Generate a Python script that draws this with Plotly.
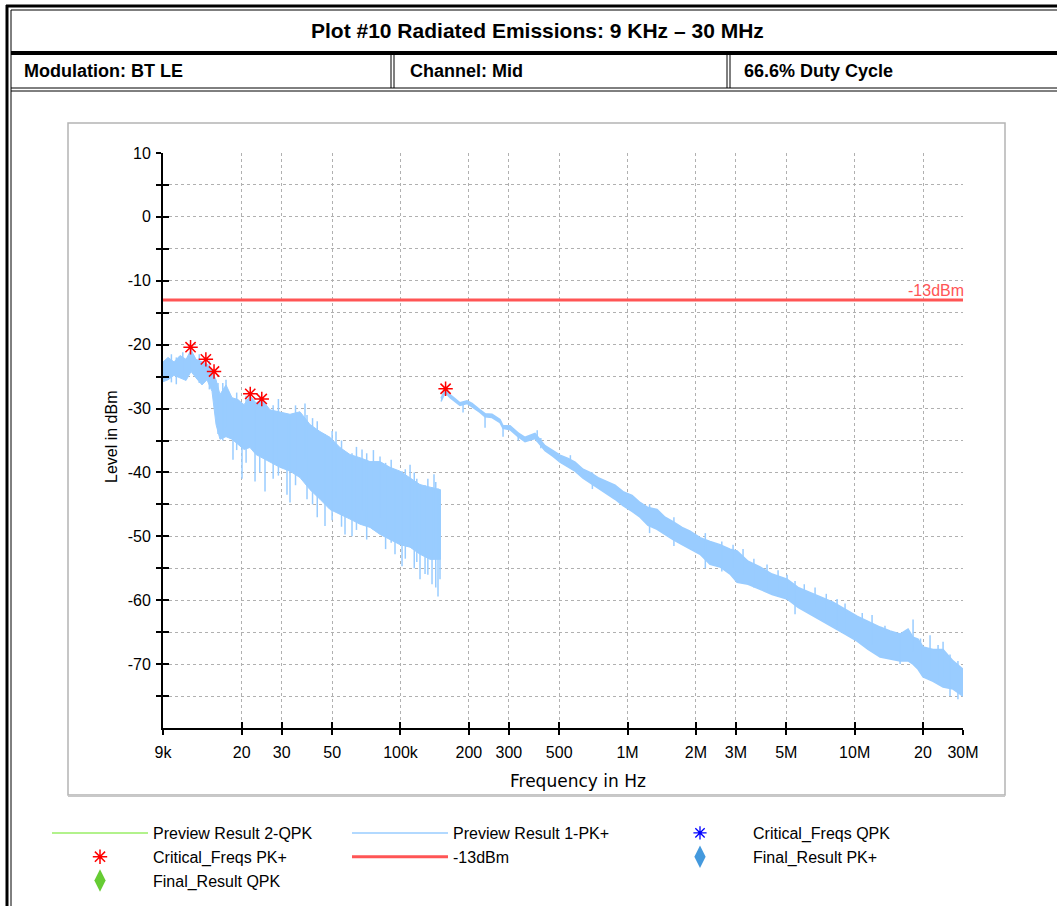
import math
import plotly.graph_objects as go

# ---------------- data ----------------
# Band 9 kHz - 150 kHz : Preview Result 1-PK+ (upper / lower envelope of the trace)
left_freq = [9.0e3, 9.47e3, 10.06e3, 10.70e3, 11.37e3, 11.96e3, 12.58e3, 13.37e3, 14.06e3,
             14.79e3, 15.41e3, 16.04e3, 17.05e3, 18.12e3, 19.25e3, 20.47e3, 21.74e3, 23.11e3,
             24.56e3, 26.64e3, 29.48e3, 32.62e3, 36.10e3, 39.96e3, 44.22e3, 48.94e3, 54.16e3,
             59.95e3, 66.35e3, 73.43e3, 81.27e3, 89.94e3, 99.54e3, 110.2e3, 121.9e3, 134.9e3,
             150.0e3]
left_upper = [-22.7, -22.0, -22.7, -21.7, -22.3, -20.8, -22.3, -22.7, -23.0, -24.2, -25.5,
              -27.8, -26.3, -28.3, -28.6, -29.4, -28.0, -29.1, -28.6, -30.2, -30.5, -30.9,
              -30.5, -32.5, -33.6, -34.5, -36.1, -37.2, -37.7, -38.3, -38.3, -39.2, -39.8,
              -40.8, -41.9, -42.3, -42.7]
left_lower = [-25.8, -25.5, -24.8, -25.2, -25.6, -24.2, -25.2, -26.3, -25.5, -27.3, -32.5,
              -34.8, -34.4, -34.8, -35.6, -36.4, -36.1, -37.2, -37.7, -38.3, -39.2, -39.8,
              -40.8, -42.7, -44.2, -45.8, -46.6, -47.3, -48.1, -48.6, -49.7, -50.5, -51.3,
              -51.7, -52.8, -53.6, -53.6]
# single-bin spikes in the 9 kHz - 150 kHz band (frequency, top, bottom)
left_spike_freq = [9.8e3, 10.3e3, 11.0e3, 12.0e3, 13.0e3, 14.4e3, 15.72e3, 16.5e3, 17.05e3,
                   18.30e3, 19.0e3, 20.05e3, 20.9e3, 22.88e3, 24.0e3, 25.32e3, 27.5e3, 29.0e3,
                   31.64e3, 32.62e3, 34.5e3, 37.98e3, 38.76e3, 41.0e3, 43.0e3, 46.52e3, 50.0e3,
                   52.01e3, 55.0e3, 56.98e3, 61.17e3, 64.0e3, 67.71e3, 71.0e3, 76.0e3, 81.27e3,
                   86.0e3, 91.0e3, 94.6e3, 101.6e3, 105.0e3, 110.2e3, 115.0e3, 118.0e3, 121.9e3,
                   128.3e3, 132.0e3, 137.7e3, 140.5e3, 143.0e3, 146.3e3, 149.3e3]
left_spike_top = [-21.5, -22.0, -21.2, -20.5, -21.5, -22.5, -26.0, -26.0, -25.5, -29.0, -27.5,
                  -29.5, -28.0, -29.0, -28.0, -29.5, -29.5, -28.5, -31.0, -31.0, -29.5, -29.2,
                  -31.0, -31.5, -32.0, -34.0, -33.5, -33.6, -35.0, -37.0, -37.0, -36.0, -36.4,
                  -37.0, -36.5, -37.5, -38.5, -38.0, -39.5, -39.8, -39.5, -38.8, -40.0, -41.0,
                  -41.9, -42.0, -41.0, -42.3, -40.3, -41.5, -42.5, -42.7]
left_spike_bot = [-25.9, -26.2, -25.0, -24.0, -26.0, -27.0, -34.0, -35.0, -33.0, -38.0, -36.5,
                  -41.0, -38.5, -41.4, -40.0, -43.0, -41.0, -40.5, -43.5, -44.7, -42.0, -38.0,
                  -44.2, -45.0, -47.0, -48.4, -47.5, -44.0, -48.5, -49.7, -50.0, -49.0, -46.0,
                  -50.5, -49.0, -47.0, -52.0, -51.0, -52.8, -54.7, -53.5, -50.0, -55.0, -54.0,
                  -56.7, -55.9, -56.0, -57.5, -52.0, -58.0, -59.4, -56.7]

# Band 150 kHz - 30 MHz : Preview Result 1-PK+
right_freq = [150.9e3, 157.1e3, 165.3e3, 173.9e3, 182.9e3, 196.4e3, 206.6e3, 224.0e3, 235.7e3,
              253.0e3, 274.4e3, 282.9e3, 303.7e3, 329.4e3, 353.6e3, 391.2e3, 433.1e3, 469.7e3,
              504.2e3, 547.0e3, 587.0e3, 636.6e3, 683.5e3, 741.4e3, 812.1e3, 880.6e3, 955.1e3,
              1.0466e6, 1.1349e6, 1.2307e6, 1.3486e6, 1.4624e6, 1.5858e6, 1.7376e6, 1.8847e6,
              2.0854e6, 2.3078e6, 2.5543e6, 2.8268e6, 3.0354e6, 3.3928e6, 3.8322e6, 4.3279e6,
              5.0385e6, 5.6329e6, 6.3632e6, 7.1849e6, 8.0330e6, 9.072e6, 10.247e6, 11.457e6,
              12.94e6, 14.32e6, 15.85e6, 17.19e6, 18.08e6, 19.02e6, 20.01e6, 22.14e6, 24.51e6,
              27.12e6, 30.0e6]
right_upper = [-28.4, -27.0, -27.8, -28.4, -29.1, -28.8, -29.2, -30.2, -30.8, -30.9, -31.7,
               -32.7, -32.7, -33.8, -34.5, -33.9, -35.8, -36.6, -37.3, -37.8, -38.4, -39.5,
               -40.0, -40.8, -41.4, -42.0, -43.0, -43.6, -44.7, -45.5, -45.8, -47.0, -47.7,
               -48.6, -49.2, -50.2, -50.8, -51.3, -52.0, -52.3, -53.9, -54.8, -55.9, -56.7,
               -58.0, -58.8, -59.5, -60.3, -61.4, -62.5, -63.3, -64.2, -64.8, -65.3, -64.5,
               -65.8, -66.1, -67.3, -67.7, -67.7, -69.5, -70.8]
right_lower = [-28.9, -27.5, -28.3, -28.9, -29.5, -29.2, -29.7, -30.6, -31.3, -31.4, -32.2,
               -33.1, -33.3, -34.4, -35.2, -34.7, -36.6, -37.5, -38.4, -39.1, -39.8, -40.9,
               -41.7, -42.5, -43.4, -44.2, -45.2, -46.1, -47.0, -48.3, -48.9, -49.7, -50.5,
               -51.3, -52.0, -52.8, -54.4, -54.8, -55.9, -57.2, -57.5, -58.3, -59.1, -59.8,
               -61.1, -62.2, -63.3, -64.2, -65.3, -66.4, -67.7, -68.9, -69.2, -69.5, -69.5,
               -70.0, -70.8, -72.0, -72.7, -73.6, -73.9, -75.0]
right_spike_freq = [188.6e3, 235.7e3, 282.9e3, 330.0e3, 400.0e3, 415.0e3, 560.0e3, 700.0e3,
                    1.25e6, 1.6e6, 2.2e6, 2.6e6, 2.915e6, 3.225e6, 3.6e6, 4.113e6, 4.6e6,
                    5.0385e6, 5.464e6, 6.0e6, 6.694e6, 7.5e6, 8.366e6, 9.072e6, 10.8e6, 11.93e6,
                    13.6e6, 15.85e6, 18.08e6, 19.5e6, 21.48e6, 23.3e6, 24.51e6, 26.3e6, 28.5e6]
right_spike_top = [-29.1, -30.8, -32.7, -33.8, -33.4, -34.6, -37.3, -40.0, -45.0, -47.0, -49.5,
                   -50.8, -51.3, -52.0, -53.5, -54.4, -55.3, -56.0, -57.0, -57.5, -58.0, -59.0,
                   -59.8, -60.5, -62.0, -62.3, -64.0, -65.3, -63.0, -66.0, -65.5, -67.0, -66.5,
                   -68.5, -69.5]
right_spike_bot = [-30.6, -33.0, -34.4, -35.0, -35.2, -36.2, -38.6, -42.6, -49.5, -51.5, -55.0,
                   -55.5, -55.0, -56.0, -58.0, -58.5, -59.5, -59.8, -62.2, -61.5, -61.0, -63.5,
                   -64.5, -65.3, -66.5, -67.0, -68.5, -70.0, -68.0, -71.0, -71.0, -73.0, -72.0,
                   -75.0, -75.5]

# Critical_Freqs PK+
crit_pk_freq = [11.9e3, 13.9e3, 15.1e3, 21.8e3, 24.5e3, 158.0e3]
crit_pk_level = [-20.4, -22.3, -24.2, -27.7, -28.5, -26.9]

# limit line
limit_freq = [9.0e3, 30.0e6]
limit_level = [-13.0, -13.0]

# axes
x_tick_vals = [9e3, 2e4, 3e4, 5e4, 1e5, 2e5, 3e5, 5e5, 1e6, 2e6, 3e6, 5e6, 1e7, 2e7, 3e7]
x_tick_text = ['9k', '20', '30', '50', '100k', '200', '300', '500', '1M', '2M', '3M', '5M',
               '10M', '20', '30M']
y_tick_vals = [10, 5, 0, -5, -10, -15, -20, -25, -30, -35, -40, -45, -50, -55, -60, -65, -70, -75]
y_tick_text = ['10', '', '0', '', '-10', '', '-20', '', '-30', '', '-40', '', '-50', '', '-60',
               '', '-70', '']

title_text = 'Plot #10 Radiated Emissions: 9 KHz \u2013 30 MHz'
row_texts = ['Modulation: BT LE', 'Channel: Mid', '66.6% Duty Cycle']

# ---------------- layout geometry ----------------
W, H = 1057, 906
PL, PR, PT, PB = 163, 963, 153, 728


def X(px):
    return (px - PL) / (PR - PL)


def Y(py):
    return (PB - py) / (PB - PT)


BLUE = '#99ccff'
RED_LINE = '#ff5555'
SANS = 'Liberation Sans, Arial, sans-serif'


def segments(freqs, tops, bots):
    xs, ys = [], []
    for f, t, b in zip(freqs, tops, bots):
        xs += [f, f, None]
        ys += [t, b, None]
    return xs, ys


fig = go.Figure()

# data band polygons
fig.add_trace(go.Scatter(x=left_freq + left_freq[::-1], y=left_upper + left_lower[::-1],
                         mode='lines', fill='toself', fillcolor=BLUE,
                         line=dict(color=BLUE, width=1), showlegend=False, hoverinfo='skip'))
sx, sy = segments(left_spike_freq, left_spike_top, left_spike_bot)
fig.add_trace(go.Scatter(x=sx, y=sy, mode='lines', line=dict(color=BLUE, width=1.5),
                         showlegend=False, hoverinfo='skip'))
fig.add_trace(go.Scatter(x=right_freq + right_freq[::-1], y=right_upper + right_lower[::-1],
                         mode='lines', fill='toself', fillcolor=BLUE,
                         line=dict(color=BLUE, width=1.5), showlegend=False, hoverinfo='skip'))
sx, sy = segments(right_spike_freq, right_spike_top, right_spike_bot)
fig.add_trace(go.Scatter(x=sx, y=sy, mode='lines', line=dict(color=BLUE, width=1.5),
                         showlegend=False, hoverinfo='skip'))

# legend-only / actual series
fig.add_trace(go.Scatter(x=[None], y=[None], mode='lines', name='Preview Result 2-QPK',
                         line=dict(color='#99ee66', width=1.5), legendrank=1))
fig.add_trace(go.Scatter(x=[None], y=[None], mode='lines', name='Preview Result 1-PK+',
                         line=dict(color=BLUE, width=1.5), legendrank=2))
fig.add_trace(go.Scatter(x=[None], y=[None], mode='markers', name='Critical_Freqs QPK',
                         marker=dict(symbol='asterisk-open', size=11, color='#0000ff',
                                     line=dict(color='#0000ff', width=1.3)), legendrank=3))
fig.add_trace(go.Scatter(x=limit_freq, y=limit_level, mode='lines', name='-13dBm',
                         line=dict(color=RED_LINE, width=3), legendrank=5))
fig.add_trace(go.Scatter(x=crit_pk_freq, y=crit_pk_level, mode='markers',
                         name='Critical_Freqs PK+',
                         marker=dict(symbol='asterisk-open', size=12, color='#ff0000',
                                     line=dict(color='#ff0000', width=1.5)), legendrank=4))
fig.add_trace(go.Scatter(x=[None], y=[None], mode='markers', name='Final_Result PK+',
                         marker=dict(symbol='diamond-tall', size=16, color='#4499dd'),
                         legendrank=6))
fig.add_trace(go.Scatter(x=[None], y=[None], mode='markers', name='Final_Result QPK',
                         marker=dict(symbol='diamond-tall', size=16, color='#66cc33'),
                         legendrank=7))
# helper trace for the inside-tick overlay axes
fig.add_trace(go.Scatter(x=[None], y=[None], xaxis='x2', yaxis='y2', showlegend=False,
                         hoverinfo='skip'))

xrange = [math.log10(9e3), math.log10(3e7)]
grid = dict(showgrid=True, gridcolor='#b0b0b0', griddash='dot', gridwidth=1)

fig.update_layout(
    width=W, height=H,
    margin=dict(l=PL, r=W - PR, t=PT, b=H - PB, pad=0, autoexpand=False),
    paper_bgcolor='white', plot_bgcolor='white',
    showlegend=True,
    legend=dict(orientation='h', x=X(47), xanchor='left', y=Y(816), yanchor='top',
                entrywidth=189, entrywidthmode='pixels', itemwidth=96,
                font=dict(family=SANS, size=16, color='black'),
                bgcolor='rgba(0,0,0,0)', tracegroupgap=0, traceorder='normal'),
    xaxis=dict(type='log', range=xrange, tickvals=x_tick_vals, ticktext=x_tick_text,
               showline=True, linecolor='black', linewidth=2, ticks='outside', ticklen=5,
               tickwidth=1.5, tickcolor='black', zeroline=False, ticklabelstandoff=4,
               tickfont=dict(family=SANS, size=16, color='black'), **grid),
    yaxis=dict(range=[-80, 10], tickvals=y_tick_vals, ticktext=y_tick_text,
               showline=True, linecolor='black', linewidth=2, ticks='outside', ticklen=5,
               tickwidth=1.5, tickcolor='black', zeroline=False, ticklabelstandoff=2,
               tickfont=dict(family=SANS, size=16, color='black'), **grid),
    xaxis2=dict(type='log', range=xrange, overlaying='x', anchor='y', side='bottom',
                tickvals=x_tick_vals, showticklabels=False, ticks='inside', ticklen=6,
                tickwidth=1.5, tickcolor='black', showgrid=False, showline=False,
                zeroline=False),
    yaxis2=dict(range=[-80, 10], overlaying='y', anchor='x', side='left',
                tickvals=y_tick_vals, showticklabels=False, ticks='inside', ticklen=6,
                tickwidth=1.5, tickcolor='black', showgrid=False, showline=False,
                zeroline=False),
)

# ---------------- page frame (table borders and chart box) ----------------
def hline(py, x0, x1, w, color='black'):
    fig.add_shape(type='line', xref='paper', yref='paper', x0=X(x0), x1=X(x1), y0=Y(py), y1=Y(py),
                  line=dict(color=color, width=w), layer='above')


def vline(px, y0, y1, w, color='black'):
    fig.add_shape(type='line', xref='paper', yref='paper', x0=X(px), x1=X(px), y0=Y(y0), y1=Y(y1),
                  line=dict(color=color, width=w), layer='above')


vline(7, 5, 906, 3)
vline(11, 10, 906, 1)
hline(6, 6, 1057, 3)
hline(10, 11, 1057, 1)
hline(53, 11, 1057, 4)
hline(88, 11, 1057, 1)
hline(91, 11, 1057, 1)
for cx in (391, 727):
    vline(cx, 55, 88, 1)
    vline(cx + 3, 55, 88, 1)

# chart box
fig.add_shape(type='rect', xref='paper', yref='paper', x0=X(68), x1=X(1005), y0=Y(123), y1=Y(795),
              line=dict(color='#b4b4b4', width=1.5), layer='below')
hline(796, 68, 1005, 2, color='#c8c8c8')

# ---------------- texts ----------------
fig.add_annotation(xref='paper', yref='paper', x=X(537), y=Y(31), text='<b>' + title_text + '</b>',
                   showarrow=False, xanchor='center', yanchor='middle',
                   font=dict(family=SANS, size=21, color='black'))
for tx, t in zip((22, 408, 742), row_texts):
    fig.add_annotation(xref='paper', yref='paper', x=X(tx), y=Y(71), text='<b>' + t + '</b>',
                       showarrow=False, xanchor='left', yanchor='middle',
                       font=dict(family=SANS, size=18, color='black'))
fig.add_annotation(xref='paper', yref='paper', x=X(112), y=Y(437), text='Level in dBm',
                   textangle=-90, showarrow=False, xanchor='center', yanchor='middle',
                   font=dict(family=SANS, size=16, color='black'))
fig.add_annotation(xref='paper', yref='paper', x=X(578), y=Y(781), text='Frequency in Hz',
                   showarrow=False, xanchor='center', yanchor='middle',
                   font=dict(family='DejaVu Sans, sans-serif', size=17, color='black'))
fig.add_annotation(xref='paper', yref='paper', x=X(966), y=Y(290), text='-13dBm',
                   showarrow=False, xanchor='right', yanchor='middle',
                   font=dict(family=SANS, size=16, color=RED_LINE))

fig.write_html('out.html',
               config={'displayModeBar': False},
               post_script="document.body.style.margin='0px';"
                           "document.body.style.overflow='hidden';")
